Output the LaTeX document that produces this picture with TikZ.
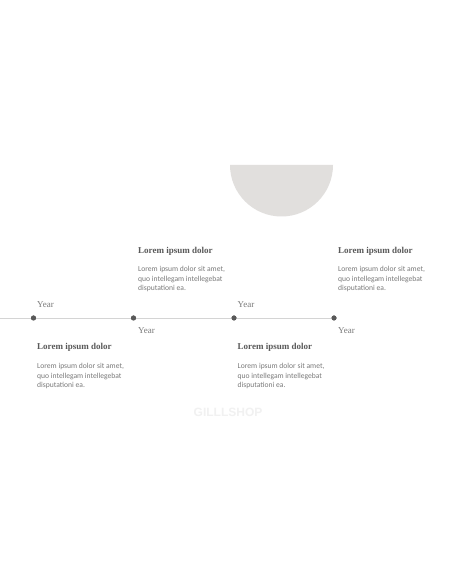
\documentclass[tikz,border=0pt]{standalone}
\usepackage{fontspec}
\setmainfont{Liberation Serif}
\newfontfamily\bodyfont{Carlito}
\newfontfamily\markfont{Liberation Sans}
\usepackage{tikz}

\definecolor{headgray}{HTML}{595959}
\definecolor{textgray}{HTML}{7A7A7A}
\definecolor{linegray}{HTML}{D4D4D4}
\definecolor{moongray}{HTML}{E1DFDD}
\definecolor{markgray}{HTML}{F1F1F1}

\tikzset{
  dot/.style={circle, fill=headgray, inner sep=0pt, minimum size=5pt},
  year/.style={anchor=base west, inner sep=0pt, text=textgray, font=\fontsize{9}{9}\selectfont},
  head/.style={anchor=base west, inner sep=0pt, text=headgray, font=\fontsize{9}{9}\selectfont\bfseries},
  body/.style={anchor=north west, inner sep=0pt, align=left, text=textgray, font=\bodyfont\fontsize{7.6}{9.1}\selectfont}
}

\begin{document}
\begin{tikzpicture}[x=1pt, y=1pt]
\useasboundingbox [fill=white] (0,0) rectangle (456,586);

% half circle
\fill [moongray] (230,421) arc (180:360:51.5) -- cycle;

% timeline
\coordinate (start) at (0,268);
\node [dot] (d1) at (33.5,268) {};
\node [dot] (d2) at (133.5,268) {};
\node [dot] (d3) at (234,268) {};
\node [dot] (d4) at (334,268) {};
\draw [linegray, line width=0.8pt] (start) -- (d1) -- (d2) -- (d3) -- (d4);
\foreach \d in {d1,d2,d3,d4} \node [dot] at (\d) {};

% labels
\node [year] (y1) at (37,278) {Year};
\node [year] (y2) at (138,252) {Year};
\node [year] (y3) at (237.5,278) {Year};
\node [year] (y4) at (338,252) {Year};

\node [head] (h1) at (37,236.5) {Lorem ipsum dolor};
\node [body] (b1) at (37,222.5) {Lorem ipsum dolor sit amet,\\quo intellegam intellegebat\\disputationi ea.};

\node [head] (h2) at (138,332.7) {Lorem ipsum dolor};
\node [body] (b2) at (138,319.5) {Lorem ipsum dolor sit amet,\\quo intellegam intellegebat\\disputationi ea.};

\node [head] (h3) at (237.5,236.5) {Lorem ipsum dolor};
\node [body] (b3) at (237.5,222.5) {Lorem ipsum dolor sit amet,\\quo intellegam intellegebat\\disputationi ea.};

\node [head] (h4) at (338,332.7) {Lorem ipsum dolor};
\node [body] (b4) at (338,319.5) {Lorem ipsum dolor sit amet,\\quo intellegam intellegebat\\disputationi ea.};

% watermark
\node [text=markgray, font=\markfont\bfseries\fontsize{12}{12}\selectfont] (mark) at (228,174) {GILLLSHOP};
\end{tikzpicture}
\end{document}
